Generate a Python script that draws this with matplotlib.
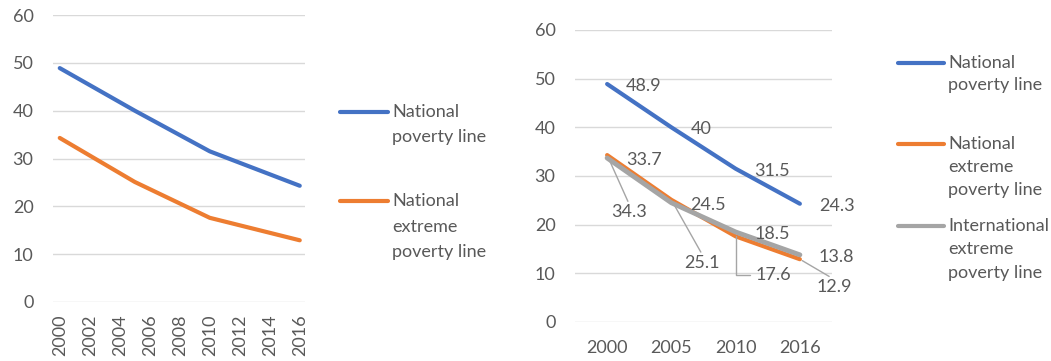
import matplotlib
matplotlib.use('Agg')
import matplotlib.pyplot as plt
from matplotlib.lines import Line2D

# data
years = [2000, 2005, 2010, 2016]
year_labels = ['2000', '2005', '2010', '2016']
national = [48.9, 40, 31.5, 24.3]
national_extreme = [34.3, 25.1, 17.6, 12.9]
international_extreme = [33.7, 24.5, 18.5, 13.8]
left_ticks = list(range(2000, 2017, 2))
y_ticks = [0, 10, 20, 30, 40, 50, 60]

BLUE = '#4472C4'
ORANGE = '#ED7D31'
GREY = '#A5A5A5'
TXT = '#595959'
GRID = '#D9D9D9'
FS = 13

plt.rcParams['font.family'] = ['Lato', 'DejaVu Sans']
plt.rcParams['font.size'] = FS

fig = plt.figure(figsize=(10.51, 3.61), dpi=100)
W, H = 1051, 361


def px_axes(x0, y0, x1, y1):
    return fig.add_axes([x0 / W, 1 - y1 / H, (x1 - x0) / W, (y1 - y0) / H])


def style(ax):
    for s in ax.spines.values():
        s.set_visible(False)
    ax.set_ylim(0, 60)
    ax.set_yticks(y_ticks)
    ax.grid(axis='y', color=GRID, lw=1)
    ax.set_axisbelow(True)
    ax.tick_params(length=0, colors=TXT, labelsize=FS)
    ax.tick_params(axis='y', pad=14)


# left chart, real year axis
ax1 = px_axes(53, 15, 305, 302)
style(ax1)
ax1.plot(years, national, color=BLUE, lw=3, solid_capstyle='round', solid_joinstyle='round')
ax1.plot(years, national_extreme, color=ORANGE, lw=3, solid_capstyle='round', solid_joinstyle='round')
ax1.set_xlim(1999.55, 2016.35)
ax1.set_xticks(left_ticks)
ax1.set_xticklabels([str(t) for t in left_ticks], rotation=90)
ax1.tick_params(axis='x', pad=9)

# right chart, category axis
ax2 = px_axes(575, 30, 832, 322)
style(ax2)
xs = range(len(year_labels))
ax2.plot(xs, national, color=BLUE, lw=3, solid_capstyle='round', solid_joinstyle='round')
ax2.plot(xs, national_extreme, color=ORANGE, lw=3, solid_capstyle='round', solid_joinstyle='round')
ax2.plot(xs, international_extreme, color=GREY, lw=3.5, solid_capstyle='round', solid_joinstyle='round')
ax2.set_xlim(-0.5, 3.5)
ax2.set_xticks(list(xs))
ax2.set_xticklabels(year_labels)
ax2.tick_params(axis='x', pad=13)

# data labels right of the point
for series in (national, international_extreme):
    for i, v in enumerate(series):
        ax2.annotate(f'{v:g}', (i, v), xytext=(19, -2), textcoords='offset pixels',
                     ha='left', va='center', color=TXT, fontsize=FS, annotation_clip=False)

# orange labels pushed below with leader lines
lead_off = [(22, -57), (31, -63), (38, -39), (34, -28)]
for i, v in enumerate(national_extreme):
    dx, dy = lead_off[i]
    if i == 2:
        arrow = dict(arrowstyle='-', color=GREY, lw=1, shrinkA=2, shrinkB=0,
                     connectionstyle='angle,angleA=0,angleB=90,rad=0', relpos=(0, 0.5))
    else:
        arrow = dict(arrowstyle='-', color=GREY, lw=1, shrinkA=0, shrinkB=2, relpos=(0.5, 1.0))
    ax2.annotate(f'{v:g}', (i, v), xytext=(dx, dy), textcoords='offset pixels',
                 ha='center', va='center', color=TXT, fontsize=FS,
                 arrowprops=arrow, annotation_clip=False)


# manual legends
def legend_item(x0, x1, y, color, lines, step):
    fig.add_artist(Line2D([x0 / W, x1 / W], [1 - y / H, 1 - y / H], color=color, lw=3,
                          solid_capstyle='round', transform=fig.transFigure))
    for k, t in enumerate(lines):
        fig.text((x1 + 4) / W, 1 - (y + k * step) / H, t, color=TXT, fontsize=FS,
                 ha='left', va='center')


legend_item(340, 388, 112, BLUE, ['National', 'poverty line'], 25)
legend_item(340, 388, 201, ORANGE, ['National', 'extreme', 'poverty line'], 25.5)

legend_item(898, 944, 63, BLUE, ['National', 'poverty line'], 22)
legend_item(898, 944, 144, ORANGE, ['National', 'extreme', 'poverty line'], 23)
legend_item(898, 944, 226, GREY, ['International', 'extreme', 'poverty line'], 23.5)

fig.savefig('out.png', dpi=100)
